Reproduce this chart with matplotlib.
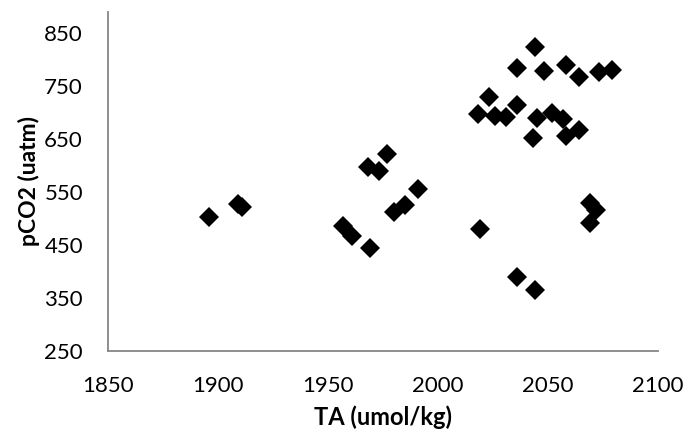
import numpy as np
import matplotlib.pyplot as plt

# TA (umol/kg) vs pCO2 (uatm)
ta = [1896, 1909, 1911,
      1977, 1968, 1973, 1991, 1980, 1985, 1957, 1961, 1969,
      2044, 2036, 2048, 2023, 2018, 2026, 2031, 2036, 2045, 2052, 2043,
      2058, 2064, 2073, 2079, 2057, 2064, 2058,
      2019, 2036, 2044, 2069, 2072, 2069]
pco2 = [503, 527, 521,
        622, 597, 589, 556, 512, 526, 486, 468, 444,
        824, 784, 778, 730, 698, 693, 692, 715, 689, 699, 652,
        790, 768, 776, 780, 688, 668, 655,
        480, 389, 365, 529, 517, 491]

x_ticks = [1850, 1900, 1950, 2000, 2050, 2100]
y_ticks = [250, 350, 450, 550, 650, 750, 850]

plt.rcParams['font.family'] = ['Lato', 'DejaVu Sans']

fig = plt.figure(figsize=(6.89, 4.34), dpi=100)
ax = fig.add_axes([0.1567, 0.1912, 0.7983, 0.7812])

ax.plot(ta, pco2, linestyle='none', marker='D', markersize=10.2,
        color='black', markeredgewidth=0)

ax.set_xlim(1850, 2100)
ax.set_ylim(250, 890)
ax.set_xticks(x_ticks)
ax.set_yticks(y_ticks)
ax.tick_params(length=0, labelsize=16)
ax.tick_params(axis='x', pad=18)
ax.tick_params(axis='y', pad=18)

for s in ['top', 'right']:
    ax.spines[s].set_visible(False)
for s in ['left', 'bottom']:
    ax.spines[s].set_color('#868686')
    ax.spines[s].set_linewidth(1.3)

ax.set_xlabel('TA (umol/kg)', fontsize=17, fontweight='bold', labelpad=7)
ax.set_ylabel('pCO2 (uatm)', fontsize=16.5, fontweight='bold', labelpad=3)

fig.savefig('out.png', dpi=100)
